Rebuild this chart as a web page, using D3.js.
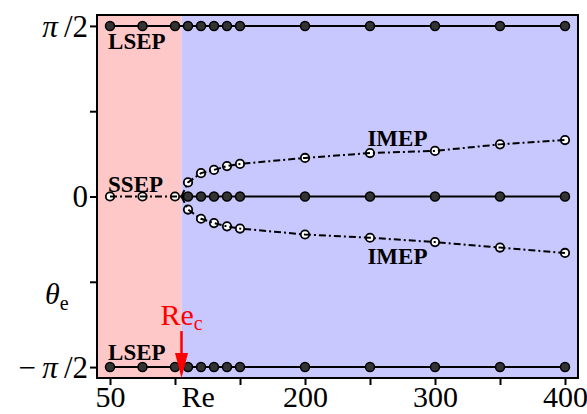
<!DOCTYPE html>
<html lang="en">
<head>
<meta charset="UTF-8">
<title>theta_e vs Re</title>
<script src="https://d3js.org/d3.v7.min.js"></script>
<style>
    body { margin: 0; background: #fff; }
    text { font-family: "Liberation Serif", "DejaVu Serif", serif; }
    .lbl { font-weight: bold; font-size: 23px; }
</style>
</head>
<body>
<div id="plot"></div>
<script>
    const PI2 = Math.PI / 2;

    // Reynolds numbers sampled
    let reAll = [50, 75, 100, 110, 120, 130, 140, 150, 200, 250, 300, 350, 400];
    let reLow = [50, 75, 100];
    let reHigh = [110, 120, 130, 140, 150, 200, 250, 300, 350, 400];
    let reCrit = 105;

    // IMEP branches (radians)
    let imepUp = [0.13, 0.215, 0.245, 0.28, 0.30, 0.355, 0.40, 0.42, 0.48, 0.52];
    let imepDown = [-0.12, -0.205, -0.245, -0.275, -0.295, -0.35, -0.38, -0.42, -0.47, -0.52];

    let xTicks = [50, 100, 150, 200, 250, 300, 350, 400];
    let xTickLabels = {50: '50', 200: '200', 300: '300', 400: '400'};
    let yTicks = [-PI2, -PI2 / 2, 0, PI2 / 2, PI2];

    let svgWidth = 587, svgHeight = 414;
    let margin = {top: 15, right: 9, bottom: 36, left: 97};
    let width = svgWidth - margin.left - margin.right;
    let height = svgHeight - margin.top - margin.bottom;

    let svg = d3.select('#plot').append('svg')
        .attr('width', svgWidth).attr('height', svgHeight)
        .append('g')
        .attr('transform', `translate(${margin.left},${margin.top})`);

    let x = d3.scaleLinear().domain([40, 410]).range([0, width]);
    let y = d3.scaleLinear().domain([-1.064 * PI2, 1.064 * PI2]).range([height, 0]);

    // background regions
    svg.append('rect').attr('x', 0).attr('y', 0)
        .attr('width', x(reCrit)).attr('height', height).attr('fill', '#ffc8c8');
    svg.append('rect').attr('x', x(reCrit)).attr('y', 0)
        .attr('width', width - x(reCrit)).attr('height', height).attr('fill', '#c8c8ff');

    let line = d3.line().x(d => x(d[0])).y(d => y(d[1]));
    let dashDot = '7,3,2,3';

    // LSEP rows
    [PI2, -PI2].forEach(v => {
        svg.append('path').datum(reAll.map(r => [r, v]))
            .attr('d', line).attr('fill', 'none').attr('stroke', '#000').attr('stroke-width', 2);
    });
    // SSEP stable (solid)
    svg.append('path').datum([[reCrit, 0]].concat(reHigh.map(r => [r, 0])))
        .attr('d', line).attr('fill', 'none').attr('stroke', '#000').attr('stroke-width', 2);

    function filled(data) {
        svg.append('g').selectAll('circle').data(data).join('circle')
            .attr('cx', d => x(d[0])).attr('cy', d => y(d[1])).attr('r', 4.5)
            .attr('fill', '#333').attr('stroke', '#000').attr('stroke-width', 1.5);
    }
    function open(data) {
        svg.append('g').selectAll('circle').data(data).join('circle')
            .attr('cx', d => x(d[0])).attr('cy', d => y(d[1])).attr('r', 4.2)
            .attr('fill', '#fff').attr('stroke', '#000').attr('stroke-width', 1.8);
    }

    filled(reAll.map(r => [r, PI2]));
    filled(reAll.map(r => [r, -PI2]));
    filled(reHigh.map(r => [r, 0]));

    let ssepLow = reLow.map(r => [r, 0]);
    let up = [[reCrit, 0]].concat(reHigh.map((r, i) => [r, imepUp[i]]));
    let down = [[reCrit, 0]].concat(reHigh.map((r, i) => [r, imepDown[i]]));

    open(ssepLow);
    open(up.slice(1));
    open(down.slice(1));

    [ssepLow.concat([[reCrit, 0]]), up, down].forEach(dat => {
        svg.append('path').datum(dat)
            .attr('d', line).attr('fill', 'none').attr('stroke', '#000')
            .attr('stroke-width', 2).attr('stroke-dasharray', dashDot);
    });

    // frame
    svg.append('rect').attr('width', width).attr('height', height)
        .attr('fill', 'none').attr('stroke', '#000').attr('stroke-width', 2);

    // axes
    let xAxis = d3.axisBottom(x).tickValues(xTicks).tickSize(6)
        .tickFormat(d => xTickLabels[d] || '');
    let gx = svg.append('g').attr('transform', `translate(0,${height + 1})`).call(xAxis);
    gx.select('.domain').remove();
    gx.selectAll('line').attr('stroke-width', 2);
    gx.selectAll('text').attr('font-size', 30).attr('font-family', 'Liberation Serif')
        .attr('y', 28).attr('dy', 0);

    let yAxis = d3.axisLeft(y).tickValues(yTicks).tickSize(6).tickFormat('');
    let gy = svg.append('g').attr('transform', 'translate(-1,0)').call(yAxis);
    gy.select('.domain').remove();
    gy.selectAll('line').attr('stroke-width', 2);

    // y tick labels
    function yLabel(v, sign) {
        let t = svg.append('text').attr('x', -9).attr('y', y(v)).attr('dy', '0.35em')
            .attr('text-anchor', 'end').attr('font-size', 31);
        if (sign === null) { t.text('0'); return; }
        if (sign) t.append('tspan').attr('dx', 0).text('\u2212\u2009');
        t.append('tspan').attr('font-style', 'italic').text('\u03c0');
        t.append('tspan').text('\u2009/2');
    }
    yLabel(PI2, false);
    yLabel(0, null);
    yLabel(-PI2, true);

    // axis titles
    let yt = svg.append('text').attr('x', -52).attr('y', y(-PI2 / 2) + 22).attr('font-size', 30)
        .attr('text-anchor', 'start');
    yt.append('tspan').attr('font-style', 'italic').text('\u03b8');
    yt.append('tspan').attr('font-size', 20).attr('dy', 6).text('e');

    svg.append('text').attr('x', x(105)).attr('y', height + 29).attr('font-size', 30).text('Re');

    // Re_c marker
    let rc = svg.append('text').attr('x', x(reCrit)).attr('y', y(-PI2) - 42)
        .attr('text-anchor', 'middle').attr('font-size', 30).attr('fill', '#f00');
    rc.append('tspan').text('Re');
    rc.append('tspan').attr('font-size', 20).attr('dy', 5).text('c');
    svg.append('line').attr('x1', x(reCrit)).attr('x2', x(reCrit))
        .attr('y1', y(-PI2) - 36).attr('y2', y(-PI2) - 10)
        .attr('stroke', '#f00').attr('stroke-width', 2.5);
    svg.append('path')
        .attr('d', `M${x(reCrit) - 6.5},${y(-PI2) - 14} L${x(reCrit) + 6.5},${y(-PI2) - 14} L${x(reCrit)},${height} Z`)
        .attr('fill', '#f00');

    // branch labels
    let labels = [
        {t: 'LSEP', re: 48.5, v: PI2, dy: 23},
        {t: 'SSEP', re: 48.5, v: 0, dy: -5},
        {t: 'LSEP', re: 48.5, v: -PI2, dy: -7},
        {t: 'IMEP', re: 248, v: 0, dy: -51},
        {t: 'IMEP', re: 248, v: 0, dy: 67}
    ];
    svg.selectAll('.lbl').data(labels).join('text').attr('class', 'lbl')
        .attr('x', d => x(d.re)).attr('y', d => y(d.v) + d.dy)
        .text(d => d.t);
</script>
</body>
</html>
